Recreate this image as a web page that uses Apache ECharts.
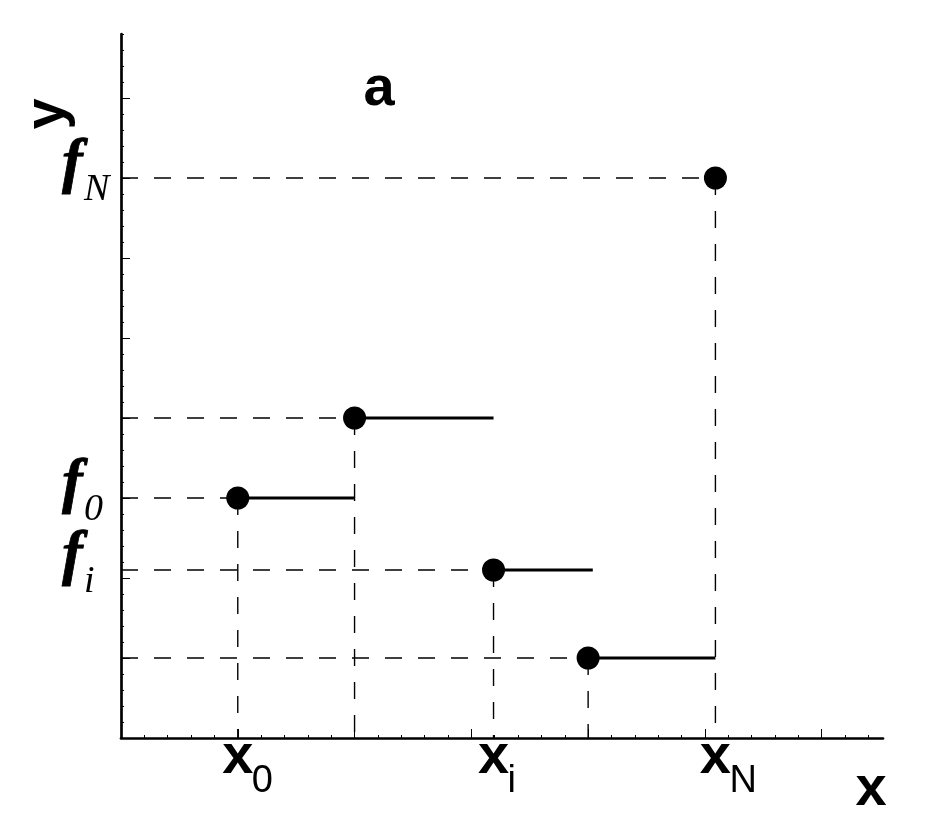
<!DOCTYPE html>
<html><head><meta charset="utf-8">
<script src="https://cdn.jsdelivr.net/npm/echarts@6/dist/echarts.min.js"></script>
<style>html,body{margin:0;padding:0;background:#fff}#c{width:934px;height:830px}</style>
</head><body><div id="c"></div>
<script>
// ---- data ----
const pointX   = [1.0, 2.0, 3.19, 4.0, 5.09];
const pointY   = [3.0, 4.0, 2.1, 1.0, 7.0];
const stepEndX = [2.0, 3.19, 4.04, 5.09];        // horizontal solid segments from points 0..3
const xLabelValues = [1.0, 3.19, 5.09];
const xLabelSubs   = ['0', 'i', 'N'];
const yLabelValues = [7.0, 3.0, 2.1];
const yLabelSubs   = ['N', '0', 'i'];
const XMAX = 6.525, YMAX = 8.8;
const xMajor = [1, 2, 3, 4, 5, 6];
const yMajor = [1, 2, 3, 4, 5, 6, 7, 8];

function minorTicks(max, majors) {
  const out = [];
  for (let k = 1; k * 0.2 <= max + 1e-9; k++) {
    const v = Math.round(k * 0.2 * 100) / 100;
    if (!majors.includes(v) && Math.abs(v - Math.round(v)) > 1e-6) out.push(v);
  }
  return out;
}
const xMinor = minorTicks(XMAX, xMajor);
const yMinor = minorTicks(YMAX, yMajor);

const chart = echarts.init(document.getElementById('c'), null, {renderer: 'canvas'});
const black = '#000';
const dash = {color: black, width: 1.4, type: [17, 16], opacity: 1};

const series = [];
// dashed guide lines
pointX.forEach((x, i) => {
  series.push({type: 'line', data: [[0, pointY[i]], [x, pointY[i]]], symbol: 'none', lineStyle: dash, z: 1, silent: true});
  series.push({type: 'line', data: [[x, pointY[i]], [x, 0]], symbol: 'none', lineStyle: dash, z: 1, silent: true});
});
// solid step segments
stepEndX.forEach((xe, i) => {
  series.push({type: 'line', data: [[pointX[i], pointY[i]], [xe, pointY[i]]], symbol: 'none',
    lineStyle: {color: black, width: 3, opacity: 1}, z: 2, silent: true});
});
// points
series.push({type: 'scatter', data: pointX.map((x, i) => [x, pointY[i]]), symbol: 'circle', symbolSize: 23,
  itemStyle: {color: black, opacity: 1}, z: 5, silent: true});

function axisPair(max, majors, minors, isX) {
  const base = {type: 'value', min: 0, max: max, splitLine: {show: false}, axisLabel: {show: false}};
  return [
    Object.assign({}, base, {
      interval: 1,
      position: isX ? 'bottom' : 'left',
      axisLine: {show: true, onZero: false, lineStyle: {color: black, width: 2.7}},
      axisTick: {show: true, inside: true, length: 9, customValues: majors, lineStyle: {color: black, width: 1}}
    }),
    Object.assign({}, base, {
      interval: 0.2,
      position: isX ? 'bottom' : 'left',
      axisLine: {show: false, onZero: false},
      axisTick: {show: true, inside: true, length: 3, customValues: minors, lineStyle: {color: black, width: 1}}
    })
  ];
}

chart.setOption({
  animation: false,
  backgroundColor: '#fff',
  grid: {left: 121, right: 51, top: 34, bottom: 92, containLabel: false},
  xAxis: axisPair(XMAX, xMajor, xMinor, true),
  yAxis: axisPair(YMAX, yMajor, yMinor, false),
  series: series
});

// ---- text labels placed through the axis scales ----
const sansBold = 'bold 56px "Liberation Sans", Arial, sans-serif';
const sansSub  = '38px "Liberation Sans", Arial, sans-serif';
const serifF   = 'italic bold 62px "Liberation Serif", "Times New Roman", serif';
const serifSub = 'italic 38px "Liberation Serif", "Times New Roman", serif';
const gfx = [];
xLabelValues.forEach((v, i) => {
  const px = chart.convertToPixel({xAxisIndex: 0}, v);
  gfx.push({type: 'text', x: px, y: 757.6, style: {text: 'x', font: sansBold, fill: black, align: 'center', verticalAlign: 'middle'}});
  gfx.push({type: 'text', x: px + 14, y: 782, style: {text: xLabelSubs[i], font: sansSub, fill: black, align: 'left', verticalAlign: 'middle'}});
});
yLabelValues.forEach((v, i) => {
  const py = chart.convertToPixel({yAxisIndex: 0}, v);
  gfx.push({type: 'text', x: 62, y: py - 13, style: {text: 'f', font: serifF, fill: black, stroke: black, lineWidth: 0.8, align: 'left', verticalAlign: 'middle'}});
  gfx.push({type: 'text', x: 84, y: py + 12, style: {text: yLabelSubs[i], font: serifSub, fill: black, align: 'left', verticalAlign: 'middle'}});
});
gfx.push({type: 'text', x: 871, y: 790, style: {text: 'x', font: sansBold, fill: black, align: 'center', verticalAlign: 'middle'}});
gfx.push({type: 'text', x: 48, y: 114, rotation: Math.PI / 2, style: {text: 'y', font: sansBold, fill: black, align: 'center', verticalAlign: 'middle'}});
gfx.push({type: 'text', x: 379, y: 90, style: {text: 'a', font: sansBold, fill: black, align: 'center', verticalAlign: 'middle'}});
chart.setOption({graphic: gfx});
</script>
</body></html>
